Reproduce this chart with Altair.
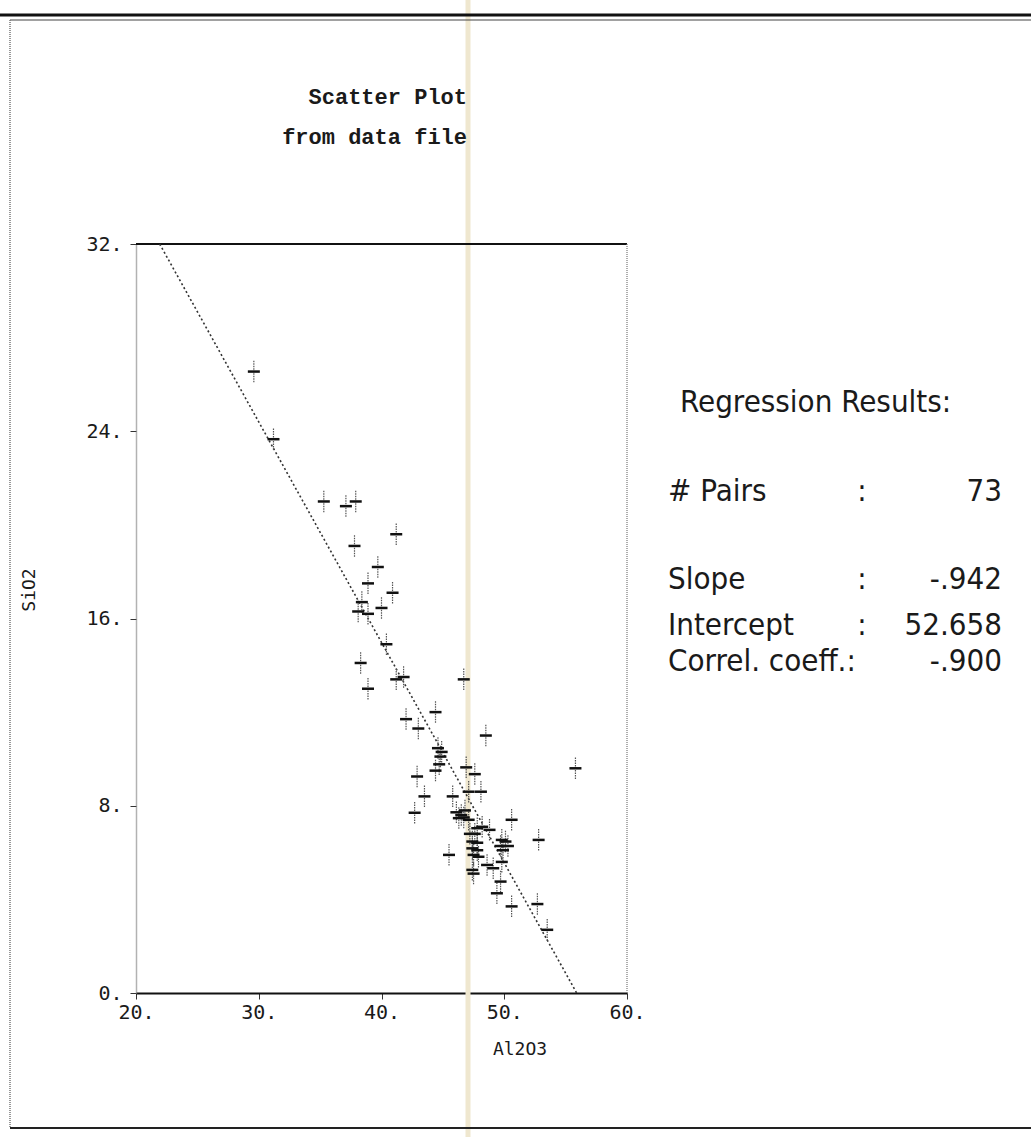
import altair as alt
import pandas as pd

# Measured pairs (Al2O3 vs SiO2)
al2o3 = [29.6, 31.2, 35.3, 37.1, 37.9, 41.2, 37.8, 39.7, 38.9, 40.9,
         38.4, 40.0, 38.1, 38.9, 40.4, 41.2, 41.8, 46.7, 44.4, 42.0,
         43.0, 48.5, 44.6, 44.9, 44.8, 44.7, 44.4, 46.9, 47.6, 55.8,
         42.9, 43.5, 45.8, 47.1, 48.1, 46.1, 46.3, 46.7, 47.1, 46.8,
         50.6, 47.8, 48.8, 45.5, 49.8, 50.1, 49.7, 50.3, 52.8, 47.4,
         47.8, 47.4, 47.8, 47.5, 47.9, 48.6, 49.1, 49.8, 47.4, 47.5,
         49.7, 49.4, 50.6, 52.7, 53.5, 38.3, 38.9, 42.7, 47.6, 47.2,
         49.9, 46.5, 48.2]
sio2 = [26.55, 23.66, 21.0, 20.8, 21.0, 19.6, 19.1, 18.2, 17.5, 17.1,
        16.7, 16.45, 16.3, 16.2, 14.9, 13.4, 13.5, 13.4, 12.0, 11.7,
        11.3, 11.0, 10.46, 10.3, 10.1, 9.77, 9.5, 9.64, 9.35, 9.6,
        9.25, 8.4, 8.4, 8.6, 8.6, 7.72, 7.47, 7.5, 7.4, 7.8,
        7.4, 7.04, 6.97, 5.9, 6.54, 6.47, 6.28, 6.28, 6.54, 6.47,
        6.42, 6.18, 6.1, 5.9, 5.82, 5.47, 5.33, 5.6, 5.26, 5.1,
        4.76, 4.26, 3.7, 3.8, 2.7, 14.1, 13.0, 7.7, 6.8, 6.8,
        6.1, 7.6, 7.1]

x_ticks = [20, 30, 40, 50, 60]
y_ticks = [0, 8, 16, 24, 32]

slope = -0.942
intercept = 52.658

title_lines = ["Scatter Plot", "from data file"]
results_header = "Regression Results:"
stat_labels = ["# Pairs", "Slope", "Intercept", "Correl. coeff.:"]
stat_seps = [":", ":", ":", ""]
stat_values = ["73", "-.942", "52.658", "-.900"]

W, H = 491, 749
MONO = "DejaVu Sans Mono"
TITLE_FONT = "Liberation Mono"
NARROW = "DejaVu Sans Condensed, Liberation Sans Narrow, Liberation Sans"

pts = pd.DataFrame({"Al2O3": al2o3, "SiO2": sio2})

# Fitted line clipped to the plotted SiO2 range
x_lo = (intercept - 32) / -slope
x_hi = intercept / -slope
fit = pd.DataFrame({"Al2O3": [x_lo, x_hi],
                    "SiO2": [intercept + slope * x_lo, intercept + slope * x_hi]})

xs = alt.Scale(domain=[20, 60], nice=False, zero=False)
ys = alt.Scale(domain=[0, 32], nice=False, zero=False)

x_axis = alt.Axis(values=x_ticks, labelExpr="datum.value + '.'", title=None,
                  grid=False, domainColor="#111", domainWidth=2, tickColor="#333",
                  tickSize=6, labelPadding=3, labelFont=MONO, labelFontSize=20,
                  labelColor="#1a1a1a", labelFlush=False)
y_axis = alt.Axis(values=y_ticks, labelExpr="datum.value + '.'", title=None,
                  grid=False, domainColor="#666", domainDash=[1, 1], domainWidth=1.5,
                  tickColor="#333", tickSize=6, labelPadding=8, labelFont=MONO,
                  labelFontSize=20, labelColor="#1a1a1a")

base = alt.Chart(pts)

h_bar = base.mark_point(shape="M-1,0H1", filled=False, stroke="#111",
                        strokeWidth=2.5, size=144, opacity=1).encode(
    x=alt.X("Al2O3:Q", scale=xs, axis=x_axis),
    y=alt.Y("SiO2:Q", scale=ys, axis=y_axis),
)
v_bar = base.mark_point(shape="M0,-1.8V1.8", filled=False, stroke="#555",
                        strokeWidth=1.2, strokeDash=[1.5, 1], size=144, opacity=1).encode(
    x=alt.X("Al2O3:Q", scale=xs),
    y=alt.Y("SiO2:Q", scale=ys),
)

fit_line = alt.Chart(fit).mark_line(color="#333", strokeWidth=1.6,
                                    strokeDash=[2, 2.5]).encode(
    x=alt.X("Al2O3:Q", scale=xs),
    y=alt.Y("SiO2:Q", scale=ys),
)

one = pd.DataFrame({"k": [0]})


def rule(x, x2, y, y2, color, width, dash=None):
    kw = dict(color=color, strokeWidth=width)
    if dash:
        kw["strokeDash"] = dash
    return alt.Chart(one).mark_rule(**kw).encode(
        x=alt.value(x), x2=alt.value(x2), y=alt.value(y), y2=alt.value(y2))


def label(text, x, y, font, size, align="left", weight="normal", angle=0):
    return alt.Chart(one).mark_text(text=text, font=font, fontSize=size,
                                    align=align, baseline="middle",
                                    fontWeight=weight, angle=angle,
                                    color="#1a1a1a").encode(
        x=alt.value(x), y=alt.value(y))


layers = [
    # paper stripe
    rule(332, 332, -244, 893, "#efe7cf", 5),
    # outer frame
    rule(-136, 895, -229, -229, "#111", 3),
    rule(-126, 895, -224, -224, "#444", 1),
    rule(-126, -126, -224, 884, "#777", 1.5, [1, 1]),
    rule(-126, 895, 884, 884, "#222", 2),
    # plot frame
    rule(0, W, 0, 0, "#111", 2),
    rule(W, W, 0, H, "#777", 1.2, [1, 1]),
    fit_line, v_bar, h_bar,
]

layers.append(label(title_lines[0], 331, -147, TITLE_FONT, 22, "right", "bold"))
layers.append(label(title_lines[1], 331, -107, TITLE_FONT, 22, "right", "bold"))
layers.append(label("SiO2", -106, 346, MONO, 18, "center", angle=270))
layers.append(label("Al2O3", 384, 806, MONO, 18, "center"))

layers.append(label(results_header, 544, 159, NARROW, 31))
row_y = [248, 336, 382, 418]
for lab, sep, val, yy in zip(stat_labels, stat_seps, stat_values, row_y):
    layers.append(label(lab, 532, yy, NARROW, 31))
    if sep:
        layers.append(label(sep, 726, yy, NARROW, 31, "center"))
    layers.append(label(val, 866, yy, NARROW, 31, "right"))

chart = alt.layer(*layers).properties(
    width=W, height=H,
    autosize=alt.AutoSizeParams(type="none"),
    padding={"left": 136, "top": 244, "right": 404, "bottom": 144},
    background="white",
).configure_view(strokeWidth=0)

chart.save("out.html", embed_options={"renderer": "svg", "actions": False})
